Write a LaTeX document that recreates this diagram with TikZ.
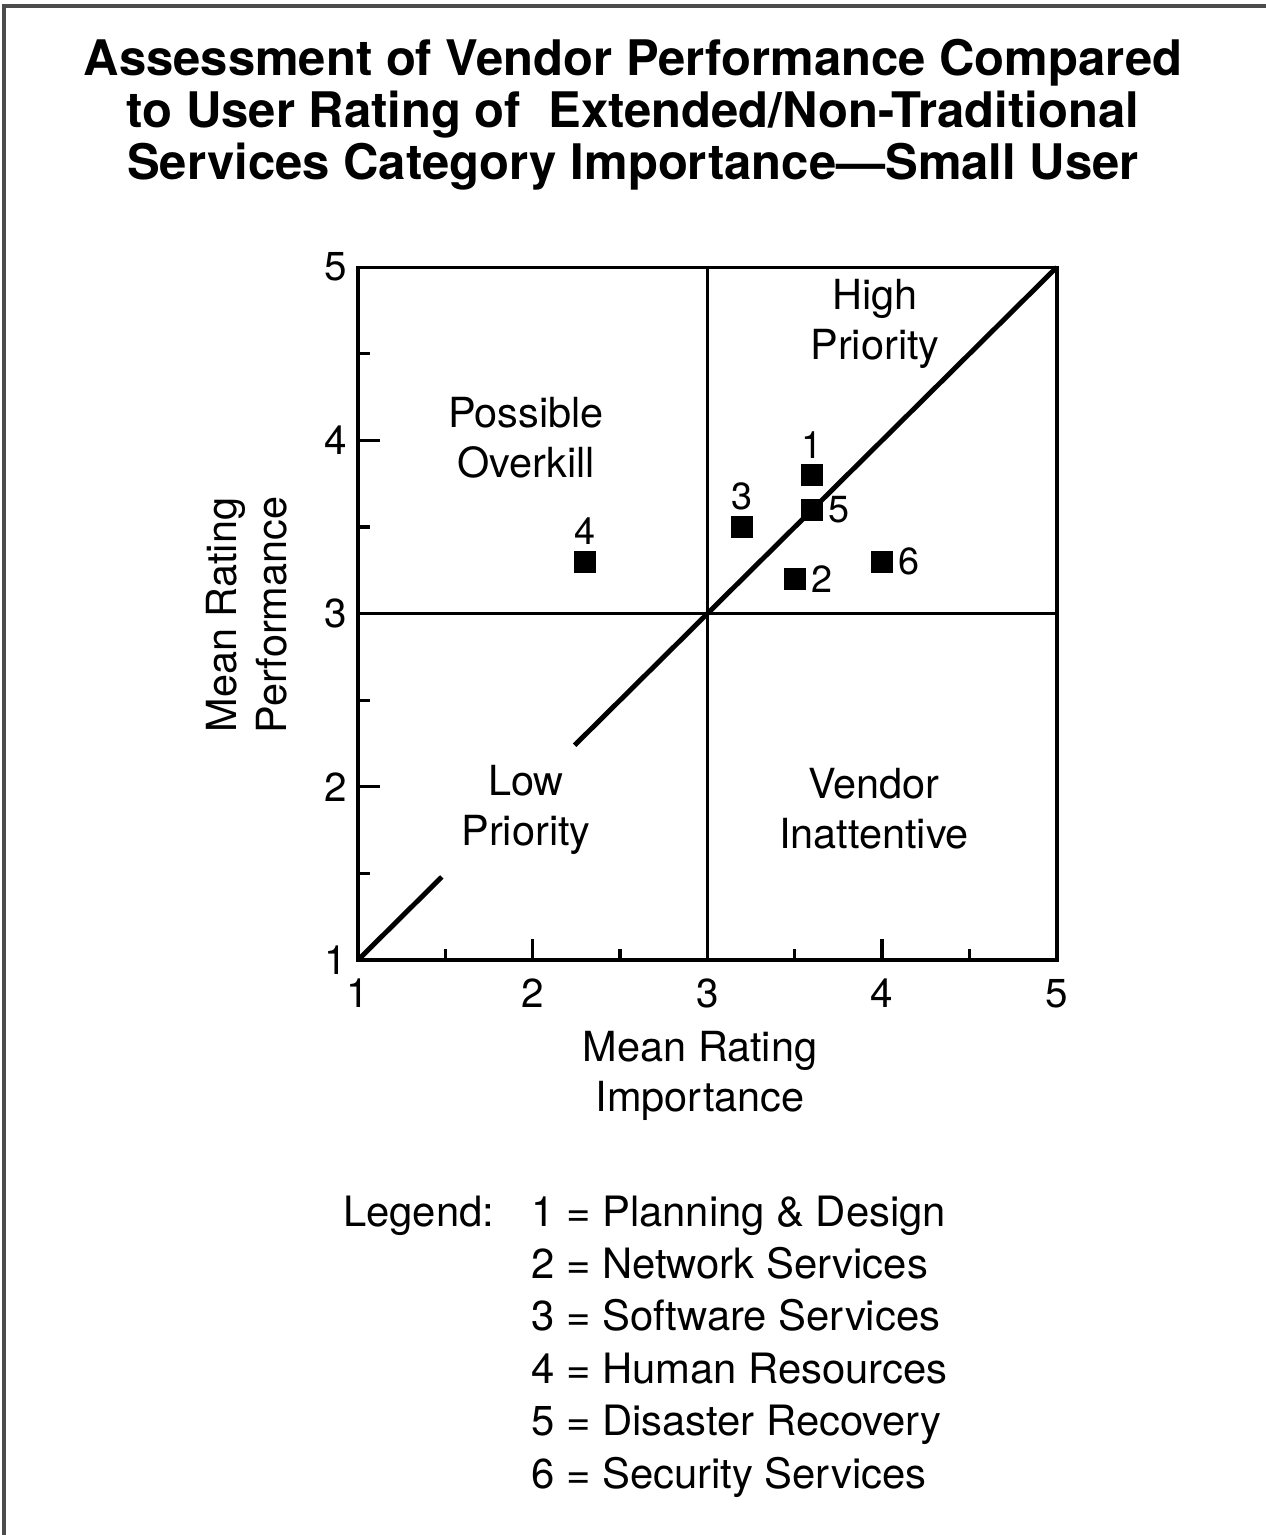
\documentclass[tikz,border=0pt]{standalone}
\usepackage{fontspec}
\setmainfont{TeX Gyre Heros}
\usetikzlibrary{positioning}

\begin{document}
\begin{tikzpicture}[x=0.02cm,y=-0.02cm,
    title node/.style={align=center,font=\bfseries\fontsize{27.9}{29.6}\selectfont},
    region label/.style={align=center,font=\fontsize{23.6}{28.6}\selectfont},
    tick label/.style={font=\fontsize{23}{26}\selectfont},
    legend node/.style={anchor=base west,font=\fontsize{23.8}{28}\selectfont},
    point node/.style={rectangle,fill=black,minimum size=0.44cm,inner sep=0pt},
    point label/.style={inner sep=0pt,font=\fontsize{21.5}{24}\selectfont},
    frame line/.style={line width=1.9pt,draw=black!70},
    axis line/.style={line width=1.9pt},
    divider line/.style={line width=1.6pt},
    diag line/.style={line width=2.8pt}]
    \useasboundingbox (0,0) rectangle (1266,1535);
    % scanned page border
    \draw[frame line] (1266,6) -- (4,6) -- (4,1535);

    \node[title node] (title) at (633,115) {Assessment of Vendor Performance Compared\\
        to User Rating of\ \ Extended/Non-Traditional\\
        Services Category Importance---Small User};

    \begin{scope}[shift={(183.25,1133.25)},x=3.495cm,y=3.465cm]
        \coordinate (o) at (1,1);
        \coordinate (xe) at (5,1);
        \coordinate (ye) at (1,5);
        \coordinate (c) at (5,5);
        \coordinate (vb) at (3,1);
        \coordinate (vt) at (3,5);
        \coordinate (hl) at (1,3);
        \coordinate (hr) at (5,3);
        \coordinate (d1) at (1.48,1.48);
        \coordinate (d2) at (2.24,2.24);

        % ticks
        \foreach \t in {1.5,2.5,3.5,4.5} {
            \draw[axis line] (1,\t) -- ++(0.24cm,0);
            \draw[axis line] (\t,1) -- ++(0,0.22cm);
        }
        \foreach \t in {2,3,4}
            \draw[axis line] (1,\t) -- ++(0.44cm,0);
        \foreach \t in {2,4}
            \draw[axis line] (\t,1) -- ++(0,0.42cm);

        \draw[axis line] (o) -- (xe) -- (c) -- (ye) -- cycle;
        \draw[divider line] (vb) -- (vt);
        \draw[divider line] (hl) -- (hr);
        \draw[diag line] (o) -- (d1);
        \draw[diag line] (d2) -- (c);

        \foreach \t in {1,...,5} {
            \node[tick label,left=0.1cm] (ytick\t) at (1,\t) {\t};
            \node[tick label,below=0.26cm] (xtick\t) at (\t,1) {\t};
        }

        \node[point node] (p1) at (3.6,3.8) {};
        \node[point node] (p2) at (3.5,3.2) {};
        \node[point node] (p3) at (3.2,3.5) {};
        \node[point node] (p4) at (2.3,3.3) {};
        \node[point node] (p5) at (3.6,3.6) {};
        \node[point node] (p6) at (4.0,3.3) {};
    \end{scope}

    \node[point label,above=0.1cm of p1] (l1) {1};
    \node[point label,right=0.1cm of p2] (l2) {2};
    \node[point label,above=0.1cm of p3] (l3) {3};
    \node[point label,above=0.1cm of p4] (l4) {4};
    \node[point label,right=0.1cm of p5] (l5) {5};
    \node[point label,right=0.1cm of p6] (l6) {6};

    \node[region label] (highprio) at (875,324) {High\\Priority};
    \node[region label] (overkill) at (526,438) {Possible\\Overkill};
    \node[region label] (lowprio) at (526,810) {Low\\Priority};
    \node[region label] (inattentive) at (874,809) {Vendor\\Inattentive};

    \node[region label,rotate=90] (ylabel) at (247,615) {Mean Rating\\Performance};
    \node[region label] (xlabel) at (700,1076) {Mean Rating\\Importance};

    \node[legend node] (legend) at (337,1226) {Legend:};
    \foreach \i/\txt [count=\k from 0] in {1/Planning \& Design,2/Network Services,
        3/Software Services,4/Human Resources,5/Disaster Recovery,6/Security Services}
        \node[legend node] (leg\i) at (525,1226+52.4*\k) {\i\ = \txt};
\end{tikzpicture}
\end{document}
